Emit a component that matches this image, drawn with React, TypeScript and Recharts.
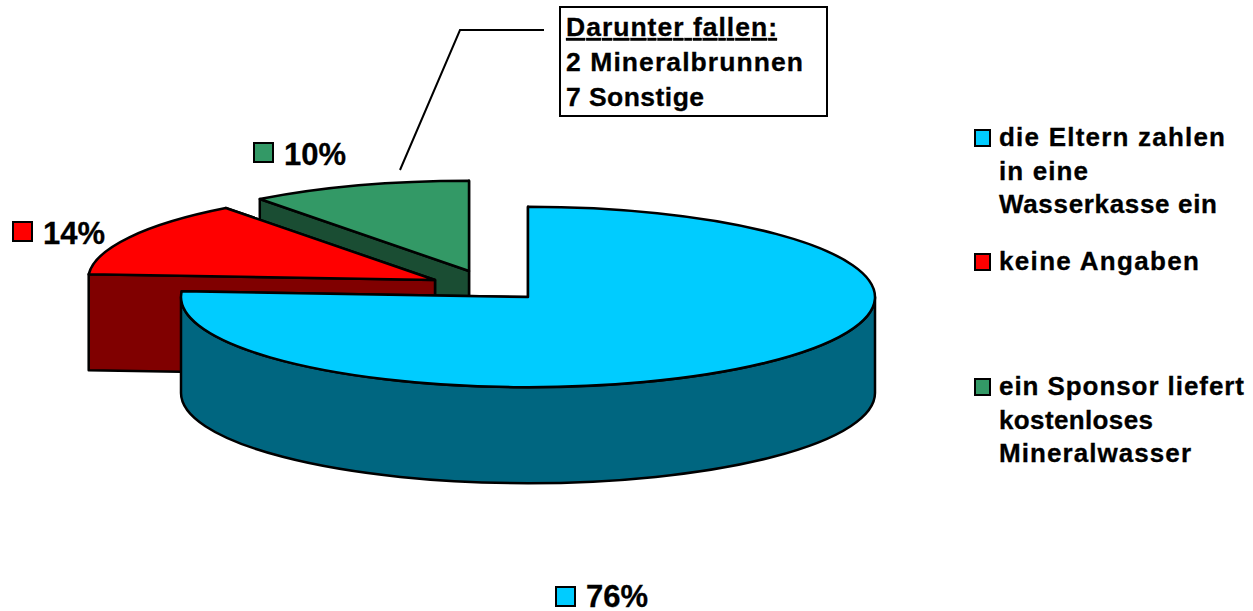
import React from 'react';
import { PieChart, Pie } from 'recharts';

const categories = ['ein Sponsor liefert', 'keine Angaben', 'die Eltern zahlen'];
// the printed labels are these rounded
const shares = [10.3, 13.7, 76];
const data = categories.map((name, i) => ({ name, value: shares[i] }));

const faceColors = ['#339966', '#FF0000', '#00CCFF'];
const wallColors = ['#1A4D33', '#800000', '#006680'];
// how far each slice is pulled out of the pie
const sliceOffsets = [
  { dx: -59, dy: -26 },
  { dx: -93, dy: -17 },
  { dx: 0, dy: 0 },
];

const legendLines = [
  ['ein Sponsor liefert', 'kostenloses', 'Mineralwasser'],
  ['keine Angaben'],
  ['die Eltern zahlen', 'in eine', 'Wasserkasse ein'],
];
const legendLineWidths = [
  [245, 154, 192],
  [200],
  [226, 89, 218],
];
const legendBaselines = [395, 270, 146];
const percentLabelPos = [
  { x: 254, y: 143, base: 165 },
  { x: 13, y: 222, base: 244 },
  { x: 556, y: 587, base: 607 },
];
const noteLines = ['Darunter fallen:', '2 Mineralbrunnen', '7 Sonstige'];
const noteLineWidths = [211, 237, 138];

const SQUASH = 0.26;
const DEPTH = 96;
const FONT = '"Liberation Sans", Arial, sans-serif';

const Slice3D = (props: any) => {
  const { cx, cy, outerRadius, startAngle, endAngle, index } = props;
  const i = index ?? data.findIndex((d) => d.name === (props.name ?? props.payload?.name));
  const ox = cx + sliceOffsets[i].dx;
  const oy = cy + sliceOffsets[i].dy;
  const rx = outerRadius;
  const ry = outerRadius * SQUASH;
  const pt = (deg: number, down = 0) => {
    const a = (deg * Math.PI) / 180;
    return `${ox + rx * Math.cos(a)} ${oy - ry * Math.sin(a) + down}`;
  };
  const large = endAngle - startAngle > 180 ? 1 : 0;
  const wallFrom = Math.max(startAngle, 180);
  const wallTo = Math.min(endAngle, 360);
  return (
    <g stroke="#000" strokeWidth={2.5} strokeLinejoin="round">
      <path
        d={`M${pt(startAngle)} L${ox} ${oy} L${ox} ${oy + DEPTH} L${pt(startAngle, DEPTH)} Z`}
        fill={wallColors[i]}
      />
      <path
        d={`M${pt(endAngle)} L${ox} ${oy} L${ox} ${oy + DEPTH} L${pt(endAngle, DEPTH)} Z`}
        fill={wallColors[i]}
      />
      {wallTo > wallFrom && (
        <path
          d={`M${pt(wallFrom)} A${rx} ${ry} 0 0 0 ${pt(wallTo)} L${pt(wallTo, DEPTH)} A${rx} ${ry} 0 0 1 ${pt(wallFrom, DEPTH)} Z`}
          fill={wallColors[i]}
        />
      )}
      <path
        d={`M${ox} ${oy} L${pt(startAngle)} A${rx} ${ry} 0 ${large} 0 ${pt(endAngle)} Z`}
        fill={faceColors[i]}
      />
    </g>
  );
};

const App = () => {
  return (
    <div style={{ position: 'absolute', left: 0, top: 0, width: 1253, height: 611, background: '#fff' }}>
      <PieChart width={1253} height={611} margin={{ top: 0, right: 0, bottom: 0, left: 0 }}>
        <Pie
          data={data}
          dataKey="value"
          nameKey="name"
          cx={528}
          cy={297}
          outerRadius={347}
          innerRadius={0}
          startAngle={90}
          endAngle={450}
          shape={Slice3D}
          isAnimationActive={false}
          stroke="none"
        />
      </PieChart>
      <svg
        width={1253}
        height={611}
        style={{ position: 'absolute', left: 0, top: 0 }}
        fontFamily={FONT}
        fontWeight="bold"
      >
        {/* note box and its leader */}
        <polyline points="400,170 460,30 544,30" fill="none" stroke="#000" strokeWidth={2} />
        <rect x={560} y={7} width={267} height={109} fill="#fff" stroke="#000" strokeWidth={2} />
        {noteLines.map((t, i) => (
          <text
            key={t}
            x={566}
            y={36 + i * 35}
            fontSize={26.5}
            textLength={noteLineWidths[i]}
            lengthAdjust="spacing"
            stroke="#000"
            strokeWidth={0.3}
            textDecoration={i === 0 ? 'underline' : undefined}
          >
            {t}
          </text>
        ))}

        {/* percent labels */}
        {shares.map((v, i) => (
          <g key={i}>
            <rect
              x={percentLabelPos[i].x}
              y={percentLabelPos[i].y}
              width={19}
              height={19}
              fill={faceColors[i]}
              stroke="#000"
              strokeWidth={2}
            />
            <text
              x={percentLabelPos[i].x + 30}
              y={percentLabelPos[i].base}
              fontSize={31}
              stroke="#000"
              strokeWidth={0.3}
            >
              {Math.round(v)}%
            </text>
          </g>
        ))}

        {/* legend */}
        {legendLines.map((lines, i) => (
          <g key={i}>
            <rect
              x={975}
              y={legendBaselines[i] - 16}
              width={15}
              height={16}
              fill={faceColors[i]}
              stroke="#000"
              strokeWidth={2}
            />
            {lines.map((t, j) => (
              <text
                key={t}
                x={999}
                y={legendBaselines[i] + j * 33.5}
                fontSize={26}
                textLength={legendLineWidths[i][j]}
                lengthAdjust="spacing"
                stroke="#000"
                strokeWidth={0.3}
              >
                {t}
              </text>
            ))}
          </g>
        ))}
      </svg>
    </div>
  );
};

export default App;
